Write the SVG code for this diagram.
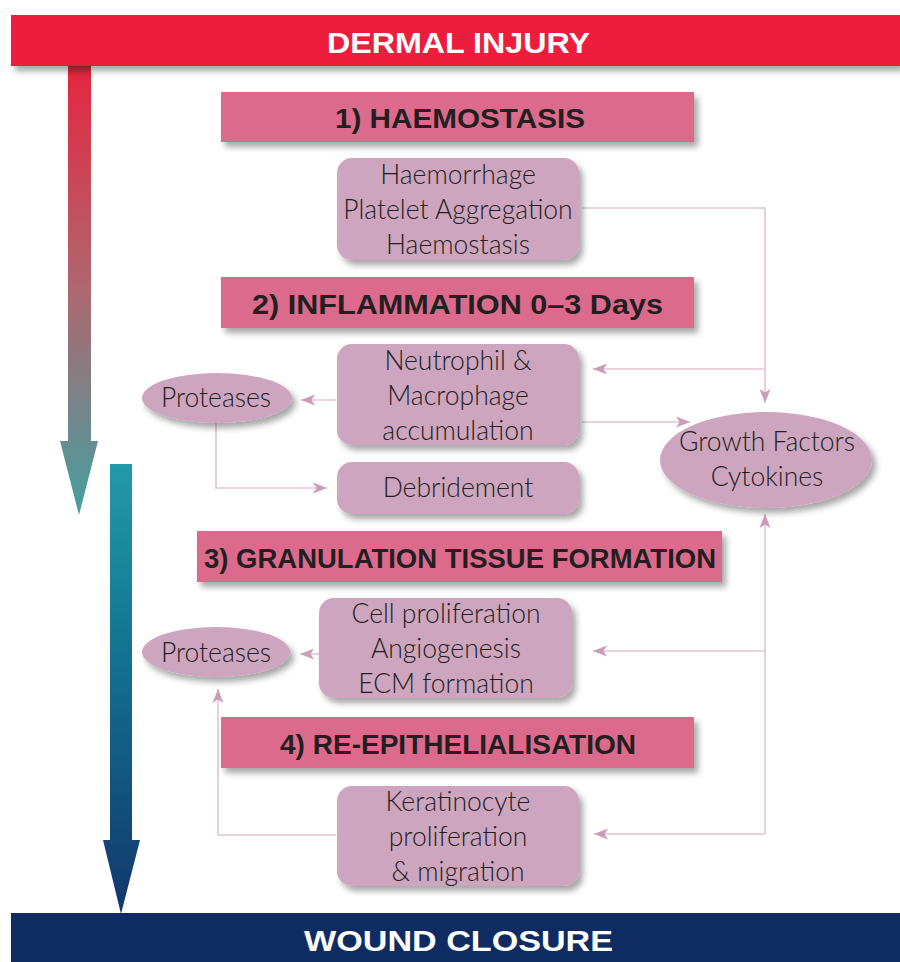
<svg xmlns="http://www.w3.org/2000/svg" width="900" height="962" viewBox="0 0 900 962">
<defs>
<style>
.hdr{fill:#DC6A8C}
.box{fill:#CDA5BE}
.ban{font-family:"Liberation Sans",Arial,sans-serif;font-weight:bold;font-size:29px;fill:#fff;text-anchor:middle}
.ht{font-family:"Liberation Sans",Arial,sans-serif;font-weight:bold;font-size:27px;fill:#231F20;text-anchor:middle}
.ct{font-family:Lato,"Open Sans",sans-serif;font-weight:300;font-size:26.5px;fill:#231F20;text-anchor:middle}
.con{fill:none;stroke:#E3C3D6;stroke-width:1.6}
</style>
<filter id="sh" x="-10%" y="-20%" width="130%" height="160%">
<feDropShadow dx="4" dy="5" stdDeviation="3" flood-color="#000" flood-opacity="0.35"/>
</filter>
<marker id="ah" markerUnits="userSpaceOnUse" markerWidth="15" markerHeight="12" refX="14" refY="6" orient="auto">
<path d="M0,0.5 L14,6 L0,11.5 L3.5,6 z" fill="#CC9DBB"/>
</marker>
<linearGradient id="g1" gradientUnits="userSpaceOnUse" x1="0" y1="66" x2="0" y2="515">
<stop offset="0" stop-color="#E5253F"/>
<stop offset="0.5" stop-color="#AE6870"/>
<stop offset="1" stop-color="#44A0A0"/>
</linearGradient>
<linearGradient id="g2" gradientUnits="userSpaceOnUse" x1="0" y1="464" x2="0" y2="914">
<stop offset="0" stop-color="#239AA8"/>
<stop offset="0.35" stop-color="#147A94"/>
<stop offset="1" stop-color="#12366C"/>
</linearGradient>
</defs>
<rect width="900" height="962" fill="#fff"/>

<g id="progress-arrows">
<polygon points="68,60 91,60 91,441 98,441 79,515 60,441 68,441" fill="url(#g1)"/>
<polygon points="110,464 132,464 132,840 140,840 121,914 103,840 110,840" fill="url(#g2)"/>
</g>

<g id="dermal-injury">
<rect x="11" y="15" width="889" height="51" fill="#EE1B3C" filter="url(#sh)"/>
<text class="ban" x="458.5" y="53" textLength="263" lengthAdjust="spacingAndGlyphs">DERMAL INJURY</text>
</g>

<g id="wound-closure">
<rect x="11" y="913" width="889" height="49" fill="#0F2C62"/>
<text class="ban" x="458.5" y="951" textLength="309" lengthAdjust="spacingAndGlyphs">WOUND CLOSURE</text>
</g>

<g id="connectors">
<path class="con" d="M582,208 H765 V403" marker-end="url(#ah)"/>
<path class="con" d="M765,369 H593" marker-end="url(#ah)"/>
<path class="con" d="M582,422 H690" marker-end="url(#ah)"/>
<path class="con" d="M336,400 H301" marker-end="url(#ah)"/>
<path class="con" d="M216,422 V488 H327" marker-end="url(#ah)"/>
<path class="con" d="M765,834 V514" marker-end="url(#ah)"/>
<path class="con" d="M765,651 H593" marker-end="url(#ah)"/>
<path class="con" d="M765,834 H594" marker-end="url(#ah)"/>
<path class="con" d="M319,654 H300" marker-end="url(#ah)"/>
<path class="con" d="M336,835 H218 V689" marker-end="url(#ah)"/>
</g>

<g id="haemostasis-header">
<rect class="hdr" x="221" y="92" width="473" height="50" filter="url(#sh)"/>
<text class="ht" x="460" y="128" textLength="250" lengthAdjust="spacingAndGlyphs">1) HAEMOSTASIS</text>
</g>
<g id="haemostasis-box">
<rect class="box" x="337" y="158" width="242" height="102" rx="15" filter="url(#sh)"/>
<text class="ct" x="458" y="184">Haemorrhage</text>
<text class="ct" x="458" y="219">Platelet Aggregation</text>
<text class="ct" x="458" y="254">Haemostasis</text>
</g>

<g id="inflammation-header">
<rect class="hdr" x="221" y="277" width="473" height="51" filter="url(#sh)"/>
<text class="ht" x="457.5" y="314" textLength="411" lengthAdjust="spacingAndGlyphs">2) INFLAMMATION 0–3 Days</text>
</g>
<g id="neutrophil-box">
<rect class="box" x="337" y="344" width="242" height="101" rx="15" filter="url(#sh)"/>
<text class="ct" x="458" y="370">Neutrophil &amp;</text>
<text class="ct" x="458" y="405">Macrophage</text>
<text class="ct" x="458" y="440">accumulation</text>
</g>
<g id="debridement-box">
<rect class="box" x="337" y="462" width="242" height="52" rx="15" filter="url(#sh)"/>
<text class="ct" x="458" y="497">Debridement</text>
</g>
<g id="proteases-1">
<ellipse class="box" cx="217" cy="398" rx="75" ry="25" filter="url(#sh)"/>
<text class="ct" x="216" y="407">Proteases</text>
</g>
<g id="growth-factors">
<ellipse class="box" cx="766" cy="460" rx="106" ry="48" filter="url(#sh)"/>
<text class="ct" x="767" y="451">Growth Factors</text>
<text class="ct" x="767" y="486">Cytokines</text>
</g>

<g id="granulation-header">
<rect class="hdr" x="197" y="531" width="525" height="51" filter="url(#sh)"/>
<text class="ht" x="460" y="568" textLength="512" lengthAdjust="spacingAndGlyphs">3) GRANULATION TISSUE FORMATION</text>
</g>
<g id="proliferation-box">
<rect class="box" x="319" y="598" width="253" height="100" rx="15" filter="url(#sh)"/>
<text class="ct" x="446" y="623">Cell proliferation</text>
<text class="ct" x="446" y="658">Angiogenesis</text>
<text class="ct" x="446" y="693">ECM formation</text>
</g>
<g id="proteases-2">
<ellipse class="box" cx="216" cy="652" rx="74" ry="25" filter="url(#sh)"/>
<text class="ct" x="216" y="662">Proteases</text>
</g>

<g id="reepithelialisation-header">
<rect class="hdr" x="221" y="717" width="473" height="51" filter="url(#sh)"/>
<text class="ht" x="458" y="754" textLength="356" lengthAdjust="spacingAndGlyphs">4) RE-EPITHELIALISATION</text>
</g>
<g id="keratinocyte-box">
<rect class="box" x="337" y="786" width="242" height="100" rx="15" filter="url(#sh)"/>
<text class="ct" x="458" y="811">Keratinocyte</text>
<text class="ct" x="458" y="846">proliferation</text>
<text class="ct" x="458" y="881">&amp; migration</text>
</g>
</svg>
